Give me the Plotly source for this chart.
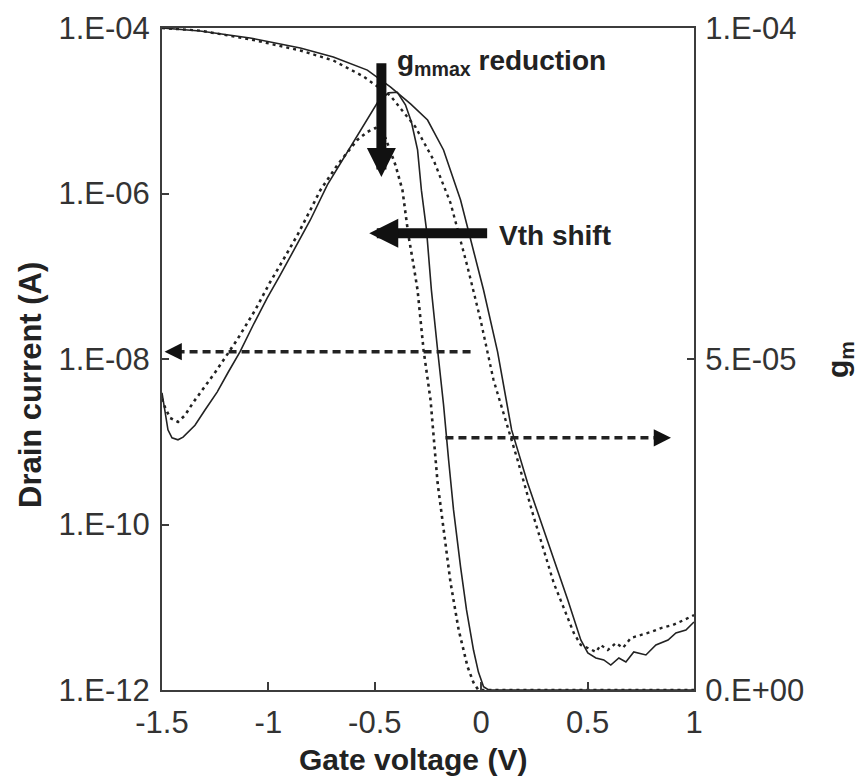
import plotly.graph_objects as go

# ---------------- data ----------------
# Drain current, before stress (solid)
v_id_before = [-1.5, -1.321, -1.086, -0.850, -0.695, -0.535, -0.427, -0.332, -0.252, -0.177,
               -0.097, 0.011, 0.077, 0.143, 0.218, 0.327, 0.407, 0.468, 0.501, 0.539,
               0.576, 0.609, 0.647, 0.680, 0.717, 0.774, 0.821, 0.878, 0.915, 0.962, 1.0]
id_before = [1.00e-4, 9.2e-5, 7.57e-5, 5.73e-5, 4.47e-5, 3.10e-5, 1.94e-5, 1.21e-5, 7.73e-6, 3.36e-6,
             8.34e-7, 6.82e-8, 1.22e-8, 1.39e-9, 3.18e-10, 4.92e-11, 1.22e-11, 4.02e-12, 2.80e-12, 2.44e-12,
             2.31e-12, 2.00e-12, 2.44e-12, 2.18e-12, 2.88e-12, 2.65e-12, 3.50e-12, 4.02e-12, 4.89e-12, 5.31e-12, 6.64e-12]

# Drain current, after stress (dotted)
v_id_after = [-1.5, -1.321, -1.086, -0.850, -0.695, -0.554, -0.427, -0.309, -0.224, -0.144,
              -0.064, -0.003, 0.058, 0.124, 0.171, 0.247, 0.341, 0.435, 0.468, 0.501,
              0.539, 0.562, 0.595, 0.633, 0.666, 0.703, 0.750, 0.798, 0.845, 0.901, 0.953, 1.0]
id_after = [1.00e-4, 9.3e-5, 7.3e-5, 5.35e-5, 4.05e-5, 2.6e-5, 1.52e-5, 6.37e-6, 2.54e-6, 7.67e-7,
            1.29e-7, 2.96e-8, 5.57e-9, 1.51e-9, 6.01e-10, 1.23e-10, 1.96e-11, 4.89e-12, 3.50e-12, 3.22e-12,
            2.88e-12, 3.50e-12, 3.04e-12, 3.70e-12, 3.22e-12, 4.25e-12, 4.62e-12, 5.03e-12, 5.61e-12, 6.10e-12, 7.02e-12, 8.05e-12]

# Transconductance, before stress (solid)
v_gm_before = [-1.5, -1.486, -1.472, -1.453, -1.425, -1.401, -1.345, -1.298, -1.241, -1.189,
               -1.133, -1.072, -1.006, -0.944, -0.883, -0.803, -0.723, -0.629, -0.558, -0.488,
               -0.436, -0.394, -0.356, -0.328, -0.299, -0.281, -0.257, -0.234, -0.205, -0.177,
               -0.153, -0.130, -0.097, -0.069, -0.036, -0.013, 0.011, 0.035, 1.0]
gm_before = [4.49e-5, 4.23e-5, 3.93e-5, 3.81e-5, 3.78e-5, 3.82e-5, 4.00e-5, 4.23e-5, 4.50e-5, 4.80e-5,
             5.11e-5, 5.51e-5, 5.92e-5, 6.27e-5, 6.62e-5, 7.10e-5, 7.63e-5, 8.13e-5, 8.50e-5, 8.87e-5,
             9.02e-5, 9.03e-5, 8.84e-5, 8.58e-5, 8.16e-5, 7.55e-5, 6.95e-5, 6.04e-5, 5.14e-5, 4.31e-5,
             3.47e-5, 2.72e-5, 1.86e-5, 1.21e-5, 6.0e-6, 2.7e-6, 5.0e-7, 0.0, 0.0]

# Transconductance, after stress (dotted)
v_gm_after = [-1.5, -1.486, -1.462, -1.425, -1.392, -1.354, -1.250, -1.147, -1.062, -0.992,
              -0.930, -0.864, -0.803, -0.756, -0.676, -0.582, -0.535, -0.497, -0.450, -0.403,
              -0.370, -0.342, -0.318, -0.299, -0.271, -0.238, -0.205, -0.177, -0.144, -0.106,
              -0.064, -0.036, -0.013, 1.0]
gm_after = [4.40e-5, 4.27e-5, 4.11e-5, 4.05e-5, 4.15e-5, 4.34e-5, 4.80e-5, 5.29e-5, 5.74e-5, 6.16e-5,
            6.50e-5, 6.87e-5, 7.25e-5, 7.55e-5, 7.93e-5, 8.31e-5, 8.43e-5, 8.49e-5, 8.34e-5, 7.93e-5,
            7.55e-5, 6.87e-5, 6.42e-5, 6.04e-5, 5.14e-5, 4.38e-5, 3.13e-5, 2.42e-5, 1.62e-5, 9.1e-6,
            3.5e-6, 1.1e-6, 0.0, 0.0]

x_ticks = [-1.5, -1, -0.5, 0, 0.5, 1]
x_ticktext = ["-1.5", "-1", "-0.5", "0", "0.5", "1"]
y_ticks = [1e-12, 1e-10, 1e-8, 1e-6, 1e-4]
y_ticktext = ["1.E-12", "1.E-10", "1.E-08", "1.E-06", "1.E-04"]
y2_ticks = [0, 5e-5, 1e-4]
y2_ticktext = ["0.E+00", "5.E-05", "1.E-04"]

# annotation arrows (x in V, y on the gm axis)
gm_arrow = dict(x=-0.469, y_tail=9.49e-5, y_tip=7.75e-5)
vth_arrow = dict(x_tail=0.035, x_tip=-0.526, y=6.90e-5)
left_arrow = dict(x_tail=-0.050, x_tip=-1.488, y=5.11e-5)
right_arrow = dict(x_tail=-0.168, x_tip=0.892, y=3.81e-5)

INK = "#222222"
AX = "#3c3c3c"
FONT = "Arial, Liberation Sans, sans-serif"

fig = go.Figure()
fig.add_trace(go.Scatter(x=v_id_before, y=id_before, mode="lines",
                         line=dict(color=INK, width=1.6), yaxis="y"))
fig.add_trace(go.Scatter(x=v_id_after, y=id_after, mode="lines",
                         line=dict(color=INK, width=2.4, dash="3px,4px"), yaxis="y"))
fig.add_trace(go.Scatter(x=v_gm_before, y=gm_before, mode="lines",
                         line=dict(color=INK, width=1.6), yaxis="y2"))
fig.add_trace(go.Scatter(x=v_gm_after, y=gm_after, mode="lines",
                         line=dict(color=INK, width=2.6, dash="3px,4px"), yaxis="y2"))

shapes = [
    dict(type="line", xref="x", yref="y2", x0=left_arrow["x_tail"], x1=left_arrow["x_tip"] + 0.04,
         y0=left_arrow["y"], y1=left_arrow["y"], line=dict(color=INK, width=3.5, dash="8px,5px")),
    dict(type="line", xref="x", yref="y2", x0=right_arrow["x_tail"], x1=right_arrow["x_tip"] - 0.04,
         y0=right_arrow["y"], y1=right_arrow["y"], line=dict(color=INK, width=3.5, dash="8px,5px")),
]

annotations = [
    # thick arrows
    dict(xref="x", yref="y2", axref="x", ayref="y2", x=gm_arrow["x"], y=gm_arrow["y_tip"],
         ax=gm_arrow["x"], ay=gm_arrow["y_tail"], text="", showarrow=True,
         arrowhead=2, arrowwidth=10, arrowsize=0.58, arrowcolor="#111111"),
    dict(xref="x", yref="y2", axref="x", ayref="y2", x=vth_arrow["x_tip"], y=vth_arrow["y"],
         ax=vth_arrow["x_tail"], ay=vth_arrow["y"], text="", showarrow=True,
         arrowhead=2, arrowwidth=10, arrowsize=0.58, arrowcolor="#111111"),
    # dashed arrow heads
    dict(xref="x", yref="y2", axref="x", ayref="y2", x=left_arrow["x_tip"], y=left_arrow["y"],
         ax=left_arrow["x_tip"] + 0.06, ay=left_arrow["y"], text="", showarrow=True,
         arrowhead=2, arrowwidth=3, arrowsize=1.15, arrowcolor="#111111"),
    dict(xref="x", yref="y2", axref="x", ayref="y2", x=right_arrow["x_tip"], y=right_arrow["y"],
         ax=right_arrow["x_tip"] - 0.06, ay=right_arrow["y"], text="", showarrow=True,
         arrowhead=2, arrowwidth=3, arrowsize=1.15, arrowcolor="#111111"),
    # labels
    dict(xref="paper", yref="paper", x=(395 - 162) / 532, y=(690 - 62) / 662, xanchor="left",
         yanchor="middle", showarrow=False,
         text="<b>g<sub>mmax</sub> reduction</b>", font=dict(family=FONT, size=28, color=INK)),
    dict(xref="paper", yref="paper", x=(497 - 162) / 532, y=(690 - 235) / 662, xanchor="left",
         yanchor="middle", showarrow=False,
         text="<b>Vth shift</b>", font=dict(family=FONT, size=28, color=INK)),
    # axis titles
    dict(xref="paper", yref="paper", x=(30 - 162) / 532, y=(690 - 385) / 662, xanchor="center",
         yanchor="middle", showarrow=False, textangle=-90,
         text="<b>Drain current (A)</b>", font=dict(family=FONT, size=31, color=INK)),
    dict(xref="paper", yref="paper", x=(839 - 162) / 532, y=(690 - 360) / 662, xanchor="center",
         yanchor="middle", showarrow=False, textangle=-90,
         text="<b>g<sub>m</sub></b>", font=dict(family=FONT, size=30, color=INK)),
    dict(xref="paper", yref="paper", x=(413 - 162) / 532, y=(690 - 760) / 662, xanchor="center",
         yanchor="middle", showarrow=False,
         text="<b>Gate voltage (V)</b>", font=dict(family=FONT, size=30, color=INK)),
]

tickfont = dict(family=FONT, size=31, color="#333333")
fig.update_layout(
    width=857, height=782,
    margin=dict(l=162, r=163, t=28, b=92),
    paper_bgcolor="white", plot_bgcolor="white",
    showlegend=False,
    shapes=shapes, annotations=annotations,
    xaxis=dict(range=[-1.5, 1], tickvals=x_ticks, ticktext=x_ticktext, ticks="inside", ticklen=8,
               tickwidth=1.5, tickcolor=AX, showline=True, linecolor=AX, linewidth=2, mirror=True,
               showgrid=False, zeroline=False, tickfont=tickfont, ticklabelstandoff=4),
    yaxis=dict(type="log", range=[-12, -4], tickvals=y_ticks, ticktext=y_ticktext, ticks="inside",
               ticklen=7, tickwidth=1.5, tickcolor=AX, showline=True, linecolor=AX, linewidth=2,
               showgrid=False, zeroline=False, tickfont=tickfont, ticklabelstandoff=4),
    yaxis2=dict(overlaying="y", side="right", range=[0, 1e-4], tickvals=y2_ticks, ticktext=y2_ticktext,
                ticks="inside", ticklen=7, tickwidth=1.5, tickcolor=AX, showline=True, linecolor=AX,
                linewidth=2, showgrid=False, zeroline=False, tickfont=tickfont, ticklabelstandoff=3),
)

fig.write_html("out.html")
